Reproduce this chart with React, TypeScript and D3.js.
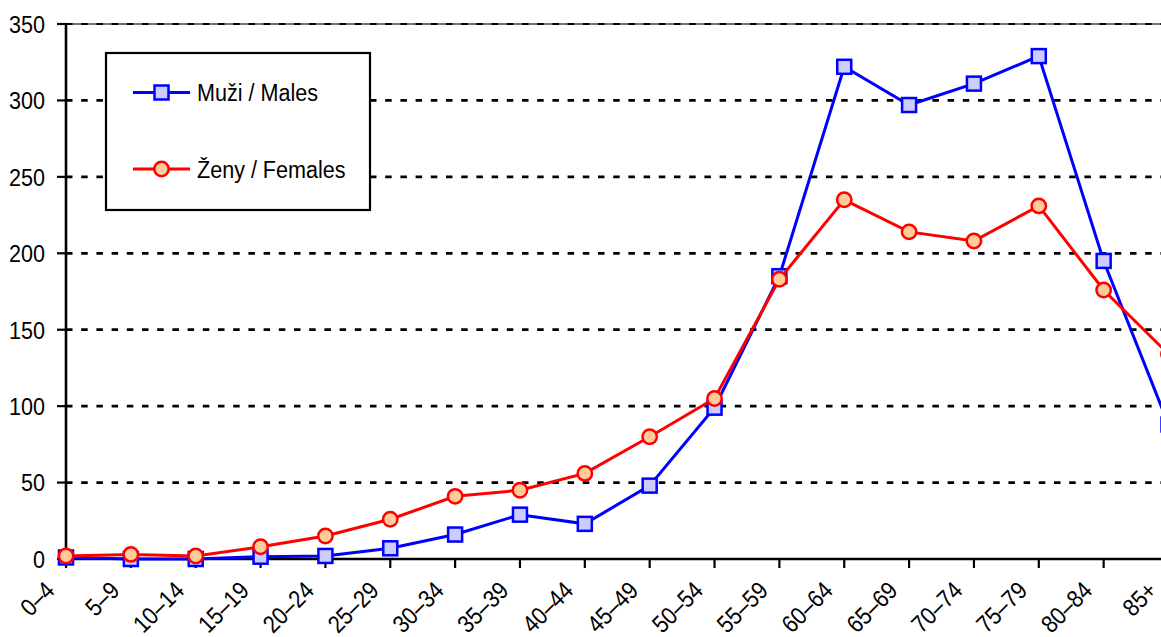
import React from "react";
import * as d3 from "d3";

const categories = ["0–4","5–9","10–14","15–19","20–24","25–29","30–34","35–39","40–44","45–49","50–54","55–59","60–64","65–69","70–74","75–79","80–84","85+"];
const males = [1, 0, 0, 1.5, 2, 7, 16, 29, 23, 48, 99, 185, 322, 297, 311, 329, 195, 88];
const females = [2, 3, 2, 8, 15, 26, 41, 45, 56, 80, 105, 183, 235, 214, 208, 231, 176, 134];
const yTicks = [0, 50, 100, 150, 200, 250, 300, 350];
const seriesNames = ["Muži / Males", "Ženy / Females"];

const W = 1161, H = 637;
const FONT = "'Liberation Sans', Arial, sans-serif";
const SX = 0.88;

export default function App() {
  const x = d3.scalePoint<string>().domain(categories).range([66, 1168.5]);
  const y = d3.scaleLinear().domain([0, 350]).range([559, 24]);
  const line = d3.line<number>().x((_, i) => x(categories[i])!).y((d) => y(d));

  const blue = "#0000ff", red = "#ff0000";
  return (
    <svg width={W} height={H} style={{ position: "absolute", left: 0, top: 0, background: "#fff" }} fontFamily={FONT}>
      {/* gridlines */}
      {yTicks.filter((t) => t > 0 && t < 350).map((t) => (
        <line key={t} x1={66} x2={1168} y1={y(t)} y2={y(t)} stroke="#000" strokeWidth={2.8} strokeDasharray="6.5,8.7" />
      ))}
      <line x1={66} x2={1168} y1={y(350)} y2={y(350)} stroke="#444" strokeWidth={1.4} />
      <line x1={66} x2={1168} y1={y(350)} y2={y(350)} stroke="#000" strokeWidth={2} strokeDasharray="6.5,8.7" />
      {/* y axis */}
      <line x1={66} x2={66} y1={y(350)} y2={y(0)} stroke="#000" strokeWidth={2.6} />
      {yTicks.map((t) => (
        <g key={t}>
          <line x1={57} x2={66} y1={y(t)} y2={y(t)} stroke="#000" strokeWidth={2.2} />
          <text transform={`translate(45,${y(t)}) scale(${SX},1)`} dy="0.36em" textAnchor="end" fontSize={24.5} fill="#000">{t}</text>
        </g>
      ))}
      {/* x axis */}
      <line x1={66} x2={1168} y1={y(0)} y2={y(0)} stroke="#000" strokeWidth={2.6} />
      {categories.map((c) => (
        <g key={c}>
          <line x1={x(c)} x2={x(c)} y1={y(0)} y2={y(0) + 9} stroke="#000" strokeWidth={2.2} />
          <text transform={`translate(${x(c)! - 10},${y(0) + 33}) rotate(-45) scale(${SX},1)`} textAnchor="end" fontSize={24.5} fill="#000">{c}</text>
        </g>
      ))}
      {/* males */}
      <path d={line(males)!} fill="none" stroke={blue} strokeWidth={3} />
      {males.map((v, i) => (
        <rect key={i} x={x(categories[i])! - 7} y={y(v) - 7} width={14} height={14} fill="#ccccff" stroke={blue} strokeWidth={2.5} />
      ))}
      {/* females */}
      <path d={line(females)!} fill="none" stroke={red} strokeWidth={3} />
      {females.map((v, i) => (
        <circle key={i} cx={x(categories[i])!} cy={y(v)} r={7.2} fill="#ffcc99" stroke={red} strokeWidth={2.5} />
      ))}
      {/* legend */}
      <rect x={106} y={53} width={264} height={157} fill="#fff" stroke="#000" strokeWidth={2.2} />
      <line x1={133} x2={190} y1={92.5} y2={92.5} stroke={blue} strokeWidth={3} />
      <rect x={154.5} y={85.5} width={14} height={14} fill="#ccccff" stroke={blue} strokeWidth={2.5} />
      <text transform={`translate(197,92.5) scale(${SX},1)`} dy="0.36em" fontSize={24.5} fill="#000">{seriesNames[0]}</text>
      <line x1={133} x2={190} y1={169} y2={169} stroke={red} strokeWidth={3} />
      <circle cx={161.5} cy={169} r={7.2} fill="#ffcc99" stroke={red} strokeWidth={2.5} />
      <text transform={`translate(197,169) scale(${SX},1)`} dy="0.36em" fontSize={24.5} fill="#000">{seriesNames[1]}</text>
    </svg>
  );
}
